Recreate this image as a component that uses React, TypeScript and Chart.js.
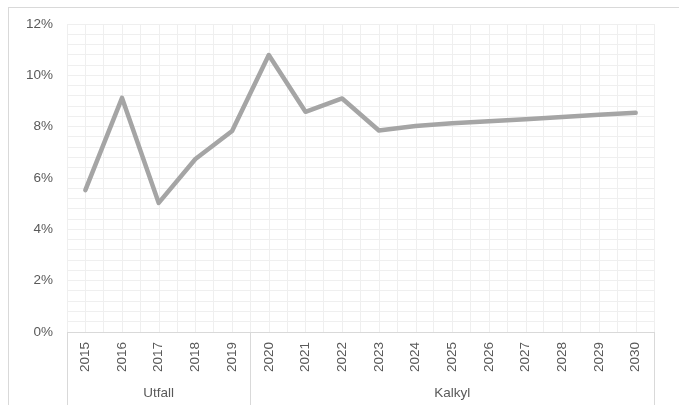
import React, { useEffect, useRef } from "react";
import { Chart, registerables } from "chart.js";

Chart.register(...registerables);

const categories = ["2015","2016","2017","2018","2019","2020","2021","2022","2023","2024","2025","2026","2027","2028","2029","2030"];
const values = [5.53, 9.12, 5.03, 6.74, 7.83, 10.79, 8.58, 9.1, 7.85, 8.03, 8.13, 8.21, 8.29, 8.38, 8.46, 8.54];
const groupLabels = ["Utfall", "Kalkyl"];
const groupSizes = [5, 11];
const yMin = 0;
const yMax = 12;
const yMinorStep = 0.4;
const yMajorStep = 2;

const FONT = "'Liberation Sans', Arial, sans-serif";
const FONT_SIZE = 13.5;
const TEXT = "#595959";
const GRID = "#efefef";
const AXIS = "#d9d9d9";

const groupPlugin = {
  id: "groupPlugin",
  beforeDatasetsDraw(chart: any) {
    const { ctx, chartArea, scales } = chart;
    const x = scales.x;
    ctx.save();
    ctx.strokeStyle = GRID;
    ctx.lineWidth = 1;
    for (let i = 0; i < categories.length; i++) {
      const px = Math.round(x.getPixelForValue(i)) + 0.5;
      ctx.beginPath();
      ctx.moveTo(px, chartArea.top);
      ctx.lineTo(px, chartArea.bottom);
      ctx.stroke();
    }
    ctx.restore();
  },
  afterDraw(chart: any) {
    const { ctx, chartArea, scales, height } = chart;
    const x = scales.x;
    ctx.save();
    ctx.strokeStyle = AXIS;
    ctx.lineWidth = 1;
    const half = (x.getPixelForValue(1) - x.getPixelForValue(0)) / 2;
    let start = 0;
    const bounds: number[] = [x.getPixelForValue(0) - half];
    groupSizes.forEach((n) => {
      bounds.push(x.getPixelForValue(start + n - 1) + half);
      start += n;
    });
    bounds.forEach((b) => {
      const px = Math.round(b) + 0.5;
      ctx.beginPath();
      ctx.moveTo(px, chartArea.bottom);
      ctx.lineTo(px, height);
      ctx.stroke();
    });
    ctx.fillStyle = TEXT;
    ctx.font = `${FONT_SIZE}px ${FONT}`;
    ctx.textAlign = "center";
    ctx.textBaseline = "middle";
    start = 0;
    groupSizes.forEach((n, gi) => {
      const cx = (x.getPixelForValue(start) + x.getPixelForValue(start + n - 1)) / 2;
      ctx.fillText(groupLabels[gi], cx, chartArea.bottom + 61);
      start += n;
    });
    ctx.restore();
  },
};

export default function App() {
  const ref = useRef<HTMLCanvasElement>(null);
  useEffect(() => {
    document.body.style.overflow = "hidden";
    const chart = new Chart(ref.current!, {
      type: "line",
      data: {
        labels: categories,
        datasets: [
          {
            data: values,
            borderColor: "#a5a5a5",
            borderWidth: 4.5,
            borderCapStyle: "round",
            borderJoinStyle: "round",
            pointRadius: 0,
            tension: 0,
          },
        ],
      },
      plugins: [groupPlugin],
      options: {
        animation: false,
        responsive: false,
        layout: { padding: { top: 16, right: 25, left: 0, bottom: 0 } },
        plugins: { legend: { display: false }, tooltip: { enabled: false } },
        scales: {
          x: {
            type: "category",
            offset: true,
            grid: { offset: true, color: GRID, drawTicks: false },
            border: { display: true, color: AXIS, width: 1 },
            ticks: {
              minRotation: 90,
              maxRotation: 90,
              autoSkip: false,
              padding: 10,
              color: TEXT,
              font: { family: FONT, size: FONT_SIZE },
            },
            afterFit: (s: any) => {
              s.height = 73;
              s.paddingLeft = 0;
              s.paddingRight = 0;
            },
          },
          y: {
            min: yMin,
            max: yMax,
            grid: { color: GRID, drawTicks: false },
            border: { display: false },
            ticks: {
              stepSize: yMinorStep,
              autoSkip: false,
              padding: 14,
              color: TEXT,
              font: { family: FONT, size: FONT_SIZE },
              callback: (v: any) => {
                const r = v / yMajorStep;
                return Math.abs(r - Math.round(r)) < 1e-6 ? `${Math.round(v)}%` : "";
              },
            },
            afterFit: (s: any) => {
              s.width = 58;
              s.paddingTop = 0;
              s.paddingBottom = 0;
            },
          },
        },
      },
    });
    return () => chart.destroy();
  }, []);
  return (
    <div
      style={{
        position: "absolute",
        top: 7,
        left: 8,
        width: 671,
        height: 398,
        borderTop: "1px solid #d9d9d9",
        borderLeft: "1px solid #d9d9d9",
        boxSizing: "border-box",
        background: "#ffffff",
      }}
    >
      <canvas ref={ref} width={670} height={397} style={{ display: "block" }} />
    </div>
  );
}
